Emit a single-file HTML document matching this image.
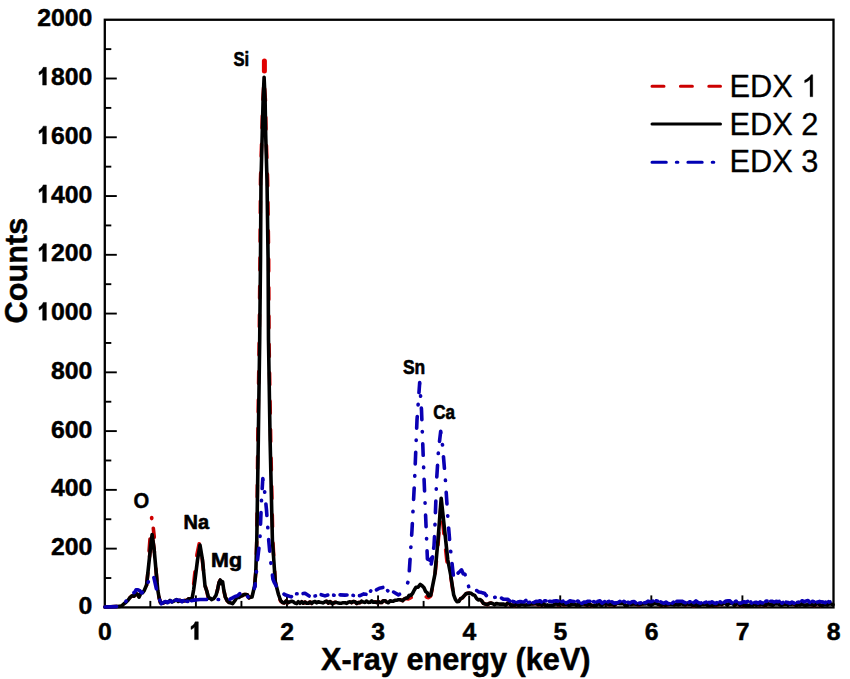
<!DOCTYPE html>
<html><head><meta charset="utf-8"><style>
html,body{margin:0;padding:0;background:#fff;}
body{width:850px;height:679px;overflow:hidden;}
svg{display:block;}
text{font-family:"Liberation Sans",sans-serif;}
</style></head><body>
<svg width="850" height="679" viewBox="0 0 850 679">
<rect x="0" y="0" width="850" height="679" fill="#fff"/>

<g stroke="#000" stroke-width="1.9" fill="none">
<line x1="104.8" y1="578.02" x2="111.3" y2="578.02"/><line x1="104.8" y1="548.63" x2="116.8" y2="548.63"/><line x1="104.8" y1="519.25" x2="111.3" y2="519.25"/><line x1="104.8" y1="489.87" x2="116.8" y2="489.87"/><line x1="104.8" y1="460.49" x2="111.3" y2="460.49"/><line x1="104.8" y1="431.10" x2="116.8" y2="431.10"/><line x1="104.8" y1="401.72" x2="111.3" y2="401.72"/><line x1="104.8" y1="372.34" x2="116.8" y2="372.34"/><line x1="104.8" y1="342.96" x2="111.3" y2="342.96"/><line x1="104.8" y1="313.57" x2="116.8" y2="313.57"/><line x1="104.8" y1="284.19" x2="111.3" y2="284.19"/><line x1="104.8" y1="254.81" x2="116.8" y2="254.81"/><line x1="104.8" y1="225.43" x2="111.3" y2="225.43"/><line x1="104.8" y1="196.04" x2="116.8" y2="196.04"/><line x1="104.8" y1="166.66" x2="111.3" y2="166.66"/><line x1="104.8" y1="137.28" x2="116.8" y2="137.28"/><line x1="104.8" y1="107.90" x2="111.3" y2="107.90"/><line x1="104.8" y1="78.51" x2="116.8" y2="78.51"/><line x1="104.8" y1="49.13" x2="111.3" y2="49.13"/><line x1="150.34" y1="607.4" x2="150.34" y2="600.9"/><line x1="195.89" y1="607.4" x2="195.89" y2="595.4"/><line x1="241.43" y1="607.4" x2="241.43" y2="600.9"/><line x1="286.98" y1="607.4" x2="286.98" y2="595.4"/><line x1="332.52" y1="607.4" x2="332.52" y2="600.9"/><line x1="378.06" y1="607.4" x2="378.06" y2="595.4"/><line x1="423.61" y1="607.4" x2="423.61" y2="600.9"/><line x1="469.15" y1="607.4" x2="469.15" y2="595.4"/><line x1="514.69" y1="607.4" x2="514.69" y2="600.9"/><line x1="560.24" y1="607.4" x2="560.24" y2="595.4"/><line x1="605.78" y1="607.4" x2="605.78" y2="600.9"/><line x1="651.33" y1="607.4" x2="651.33" y2="595.4"/><line x1="696.87" y1="607.4" x2="696.87" y2="600.9"/><line x1="742.41" y1="607.4" x2="742.41" y2="595.4"/><line x1="787.96" y1="607.4" x2="787.96" y2="600.9"/>
</g>
<rect x="104.80" y="19.75" width="728.70" height="587.65" fill="none" stroke="#000" stroke-width="2.3"/>
<g fill="none" stroke-linejoin="round" stroke-linecap="round" stroke-width="3.6">
<polyline points="105.0,607.0 120.0,606.4 122.0,605.6 124.0,603.7 126.0,602.2 128.0,600.3 130.0,597.5 132.0,595.8 134.0,596.3 136.0,593.4 137.5,594.4 139.0,597.2 141.0,592.9 142.5,592.8 144.0,590.9 146.6,585.0 148.7,565.0 150.7,546.0 152.1,534.5 154.0,548.0 155.8,568.0 157.8,590.3 159.2,598.2 160.5,602.8 162.8,603.1 165.0,602.1 166.7,602.4 168.3,602.1 170.0,600.5 171.7,602.0 173.3,601.4 175.0,600.5 176.7,599.7 178.3,601.5 180.0,600.4 181.7,600.9 183.3,601.1 185.0,600.5 186.8,600.5 188.6,598.7 190.4,599.2 192.2,598.1 194.5,576.0 197.0,554.0 199.3,543.0 202.0,557.0 205.0,585.4 206.8,591.3 208.7,600.1 210.1,598.1 211.5,599.6 214.0,598.3 216.0,595.3 217.6,589.5 219.0,582.5 220.3,580.0 221.5,583.6 222.6,581.7 223.8,590.2 225.3,597.0 227.0,600.4 229.0,602.5 230.8,602.9 232.6,603.7 234.8,600.7 237.0,597.2 239.0,597.4 241.0,596.1 242.5,595.6 244.1,594.5 245.6,594.5 247.3,594.8 249.0,597.8 250.5,597.2 252.0,597.0 254.6,586.0 255.8,572.0 256.8,540.0 257.8,440.0 259.2,340.0 260.0,260.0 260.5,180.0 261.8,135.0 262.8,100.0 264.1,80.0 265.4,100.0 266.1,135.0 267.6,180.0 268.7,260.0 269.0,340.0 270.7,440.0 272.8,540.0 275.3,582.0 278.5,595.7 280.6,601.2 282.5,602.4 284.4,602.9 286.2,600.8 288.1,602.6 290.0,601.8 291.7,601.3 293.3,601.8 295.0,603.1 296.7,603.6 298.3,601.7 300.0,603.3 301.7,601.7 303.3,603.2 305.0,602.1 306.7,603.2 308.3,603.3 310.0,602.0 311.7,603.4 313.3,601.9 315.0,601.5 316.7,602.9 318.3,601.7 320.0,602.3 321.7,602.6 323.3,602.9 325.0,601.7 326.7,601.2 328.3,603.0 330.0,601.6 331.7,603.3 333.3,603.3 335.0,602.2 336.7,602.6 338.3,602.9 340.0,603.3 341.7,603.1 343.3,602.8 345.0,602.8 346.7,603.4 348.3,602.2 350.0,601.8 351.7,602.6 353.3,601.5 355.0,601.8 356.7,603.5 358.3,602.5 360.0,602.6 361.7,601.2 363.3,602.1 365.0,602.4 366.7,601.0 368.3,602.4 370.0,602.3 371.7,600.9 373.3,602.3 375.0,601.9 376.7,602.4 378.3,601.6 380.0,602.5 381.7,602.5 383.3,600.7 385.0,600.7 386.7,602.1 388.3,602.7 390.0,600.9 391.7,601.1 393.3,601.2 395.0,600.3 396.7,600.2 398.3,599.8 400.0,599.7 402.5,600.7 404.2,599.0 405.0,598.7 406.7,598.4 408.3,599.0 410.0,598.1 411.9,597.1 413.7,596.6 415.6,596.0 417.4,595.2 419.3,595.4 421.1,596.4 423.0,596.4 424.9,595.7 426.7,597.2 428.6,597.7 430.7,596.0 434.9,576.0 438.0,545.0 441.0,505.0 444.0,535.0 447.0,562.0 450.6,576.0 453.7,595.8 455.4,598.9 457.0,601.7 458.8,601.5 460.6,598.6 462.4,597.8 464.1,595.9 465.9,593.8 467.7,593.2 469.4,593.1 471.2,593.3 473.0,594.8 474.7,595.4 476.5,598.4 478.2,599.9 480.0,599.5 481.8,600.9 483.5,603.4 485.3,604.1 487.1,604.6 489.0,603.6 490.8,603.1 492.6,603.6 494.5,604.8 496.3,603.6 498.2,603.9 500.0,604.1 501.8,604.1 503.6,604.1 505.5,605.3 507.3,603.4 509.1,603.1 510.9,605.3 512.7,605.1 514.5,605.4 516.4,604.1 518.2,605.3 520.0,605.2 521.8,603.6 523.6,604.8 525.5,605.1 527.3,604.7 529.1,604.4 530.9,603.9 532.7,604.0 534.5,603.8 536.4,603.4 538.2,604.7 540.0,604.0 541.8,605.2 543.6,603.4 545.5,605.4 547.3,604.9 549.1,605.4 550.9,605.3 552.7,605.3 554.5,604.5 556.4,603.2 558.2,604.9 560.0,603.5 561.8,603.8 563.6,604.7 565.5,604.4 567.3,604.2 569.1,605.5 570.9,604.7 572.7,604.1 574.5,603.9 576.4,605.4 578.2,604.5 580.0,605.3 581.8,604.2 583.6,603.8 585.5,604.6 587.3,605.3 589.1,603.7 590.9,605.2 592.7,605.5 594.5,605.2 596.4,605.2 598.2,603.2 600.0,604.7 601.8,605.3 603.6,603.4 605.5,603.9 607.3,603.9 609.1,604.6 610.9,604.3 612.7,604.5 614.5,605.2 616.4,603.4 618.2,603.5 620.0,603.7 621.8,603.7 623.6,603.5 625.5,605.7 627.3,605.4 629.1,603.5 630.9,604.5 632.7,604.0 634.5,604.0 636.4,604.1 638.2,604.8 640.0,604.6 641.8,604.1 643.6,603.7 645.5,604.0 647.3,603.6 649.1,604.6 650.9,605.0 652.7,604.2 654.5,603.5 656.4,603.8 658.2,604.3 660.0,604.9 661.8,605.3 663.6,604.3 665.5,605.3 667.3,604.8 669.1,604.3 670.9,604.2 672.7,604.5 674.5,604.9 676.4,604.2 678.2,604.9 680.0,604.3 681.8,603.8 683.6,604.5 685.5,604.9 687.3,603.4 689.1,604.3 690.9,604.3 692.7,605.4 694.5,605.6 696.4,604.3 698.2,605.5 700.0,605.3 701.8,604.0 703.6,604.5 705.5,603.6 707.3,605.3 709.1,604.9 710.9,605.4 712.7,605.2 714.5,604.9 716.4,605.0 718.2,604.6 720.0,603.4 721.8,604.6 723.6,603.2 725.5,603.6 727.3,605.1 729.1,603.4 730.9,603.5 732.7,603.6 734.5,605.5 736.4,603.8 738.2,603.4 740.0,605.4 741.8,603.7 743.6,605.4 745.5,605.0 747.3,605.3 749.1,605.6 750.9,604.7 752.7,605.2 754.5,603.3 756.4,605.1 758.2,604.4 760.0,604.9 761.8,603.5 763.6,605.0 765.5,605.5 767.3,603.4 769.1,604.1 770.9,604.7 772.7,605.3 774.5,603.9 776.4,603.8 778.2,604.0 780.0,604.9 781.8,605.2 783.6,604.3 785.5,604.2 787.3,604.3 789.1,604.1 790.9,604.3 792.7,603.5 794.5,604.5 796.4,605.6 798.2,604.2 800.0,605.0 801.8,603.6 803.6,604.9 805.5,605.1 807.3,604.9 809.1,604.5 810.9,604.5 812.7,604.9 814.5,605.5 816.4,603.7 818.2,603.6 820.0,605.2 821.9,605.6 823.7,604.6 825.6,604.5 827.4,605.1 829.3,603.8 831.1,604.0 833.0,604.6" stroke="#dd0a0a" stroke-dasharray="12 16.4"/>
<polyline points="264.4,61 264.4,71" stroke="#e00000" stroke-width="5"/>
<polyline points="151.7,517.6 151.7,518.6" stroke="#d00000"/>
<polyline points="153.3,528.3 154.3,537.3" stroke="#c00000"/>
<polyline points="150.0,539 149.1,551" stroke="#b00000"/>
<polyline points="105.0,607.0 120.0,606.4 122.0,605.6 124.0,603.7 126.0,602.2 128.0,600.3 130.0,597.5 132.0,595.8 134.0,596.3 136.0,593.4 137.5,594.4 139.0,597.2 141.0,592.9 142.5,592.8 144.0,590.9 146.6,585.0 148.7,565.0 150.7,546.0 152.1,534.5 154.0,548.0 155.8,568.0 157.8,590.3 159.2,598.2 160.5,602.8 162.8,603.1 165.0,602.1 166.7,602.4 168.3,602.1 170.0,600.5 171.7,602.0 173.3,601.4 175.0,600.5 176.7,599.7 178.3,601.5 180.0,600.4 181.7,600.9 183.3,601.1 185.0,600.5 186.8,600.5 188.6,598.7 190.4,599.2 192.2,597.9 193.6,590.0 195.0,580.0 197.5,560.0 200.0,545.0 202.5,560.0 205.0,585.9 206.8,591.0 208.7,598.1 210.1,598.1 211.5,599.6 214.0,598.3 216.0,595.3 217.6,589.5 219.0,582.5 220.3,580.0 221.5,583.6 222.6,581.7 223.8,590.2 225.3,597.0 227.0,600.4 229.0,602.5 230.8,602.9 232.6,603.7 234.8,600.7 237.0,597.2 239.0,597.4 241.0,596.1 242.5,595.6 244.1,594.5 245.6,594.5 247.3,594.8 249.0,597.8 250.5,597.2 252.0,597.0 254.6,586.0 255.8,572.0 256.8,540.0 258.3,440.0 259.7,340.0 260.5,260.0 261.0,180.0 262.2,135.0 263.1,100.0 264.1,77.3 265.1,100.0 265.7,135.0 267.0,180.0 268.1,260.0 268.5,340.0 270.1,440.0 272.4,540.0 275.3,582.0 278.5,594.5 280.6,600.5 282.5,602.4 284.4,602.9 286.2,600.8 288.1,602.6 290.0,601.8 291.7,601.3 293.3,601.8 295.0,603.1 296.7,603.6 298.3,601.7 300.0,603.3 301.7,601.7 303.3,603.2 305.0,602.1 306.7,603.2 308.3,603.3 310.0,602.0 311.7,603.4 313.3,601.9 315.0,601.5 316.7,602.9 318.3,601.7 320.0,602.3 321.7,602.6 323.3,602.9 325.0,601.7 326.7,601.2 328.3,603.0 330.0,601.6 331.7,603.3 333.3,603.3 335.0,602.2 336.7,602.6 338.3,602.9 340.0,603.3 341.7,603.1 343.3,602.8 345.0,602.8 346.7,603.4 348.3,602.2 350.0,601.8 351.7,602.6 353.3,601.5 355.0,601.8 356.7,603.5 358.3,602.5 360.0,602.6 361.7,601.2 363.3,602.1 365.0,602.4 366.7,601.0 368.3,602.4 370.0,602.3 371.7,600.9 373.3,602.3 375.0,601.9 376.7,602.4 378.3,601.6 380.0,602.5 381.7,602.5 383.3,600.7 385.0,600.7 386.7,602.1 388.3,602.7 390.0,600.9 391.7,601.1 393.3,601.2 395.0,600.3 396.7,600.2 398.3,599.8 400.0,599.7 402.5,600.7 404.2,599.0 405.9,598.1 407.5,598.0 409.2,595.2 410.9,595.5 412.6,593.4 414.3,590.0 416.0,587.3 418.1,587.2 420.3,584.4 422.1,585.7 424.0,587.8 425.5,591.3 427.1,592.6 428.6,596.0 430.7,595.3 434.9,574.4 438.0,540.0 441.2,498.2 444.6,530.0 447.8,560.0 450.6,574.4 453.7,594.9 455.4,599.4 457.0,601.7 458.8,601.5 460.6,598.6 462.4,597.8 464.1,595.9 465.9,593.8 467.7,593.2 469.4,593.1 471.2,593.3 473.0,594.8 474.7,595.4 476.5,598.4 478.2,599.9 480.0,599.5 481.8,600.9 483.5,603.4 485.3,604.1 487.1,604.6 489.0,603.6 490.8,603.1 492.6,603.6 494.5,604.8 496.3,603.6 498.2,603.9 500.0,604.1 501.8,604.1 503.6,604.1 505.5,605.3 507.3,603.4 509.1,603.1 510.9,605.3 512.7,605.1 514.5,605.4 516.4,604.1 518.2,605.3 520.0,605.2 521.8,603.6 523.6,604.8 525.5,605.1 527.3,604.7 529.1,604.4 530.9,603.9 532.7,604.0 534.5,603.8 536.4,603.4 538.2,604.7 540.0,604.0 541.8,605.2 543.6,603.4 545.5,605.4 547.3,604.9 549.1,605.4 550.9,605.3 552.7,605.3 554.5,604.5 556.4,603.2 558.2,604.9 560.0,603.5 561.8,603.8 563.6,604.7 565.5,604.4 567.3,604.2 569.1,605.5 570.9,604.7 572.7,604.1 574.5,603.9 576.4,605.4 578.2,604.5 580.0,605.3 581.8,604.2 583.6,603.8 585.5,604.6 587.3,605.3 589.1,603.7 590.9,605.2 592.7,605.5 594.5,605.2 596.4,605.2 598.2,603.2 600.0,604.7 601.8,605.3 603.6,603.4 605.5,603.9 607.3,603.9 609.1,604.6 610.9,604.3 612.7,604.5 614.5,605.2 616.4,603.4 618.2,603.5 620.0,603.7 621.8,603.7 623.6,603.5 625.5,605.7 627.3,605.4 629.1,603.5 630.9,604.5 632.7,604.0 634.5,604.0 636.4,604.1 638.2,604.8 640.0,604.6 641.8,604.1 643.6,603.7 645.5,604.0 647.3,603.6 649.1,604.6 650.9,605.0 652.7,604.2 654.5,603.5 656.4,603.8 658.2,604.3 660.0,604.9 661.8,605.3 663.6,604.3 665.5,605.3 667.3,604.8 669.1,604.3 670.9,604.2 672.7,604.5 674.5,604.9 676.4,604.2 678.2,604.9 680.0,604.3 681.8,603.8 683.6,604.5 685.5,604.9 687.3,603.4 689.1,604.3 690.9,604.3 692.7,605.4 694.5,605.6 696.4,604.3 698.2,605.5 700.0,605.3 701.8,604.0 703.6,604.5 705.5,603.6 707.3,605.3 709.1,604.9 710.9,605.4 712.7,605.2 714.5,604.9 716.4,605.0 718.2,604.6 720.0,603.4 721.8,604.6 723.6,603.2 725.5,603.6 727.3,605.1 729.1,603.4 730.9,603.5 732.7,603.6 734.5,605.5 736.4,603.8 738.2,603.4 740.0,605.4 741.8,603.7 743.6,605.4 745.5,605.0 747.3,605.3 749.1,605.6 750.9,604.7 752.7,605.2 754.5,603.3 756.4,605.1 758.2,604.4 760.0,604.9 761.8,603.5 763.6,605.0 765.5,605.5 767.3,603.4 769.1,604.1 770.9,604.7 772.7,605.3 774.5,603.9 776.4,603.8 778.2,604.0 780.0,604.9 781.8,605.2 783.6,604.3 785.5,604.2 787.3,604.3 789.1,604.1 790.9,604.3 792.7,603.5 794.5,604.5 796.4,605.6 798.2,604.2 800.0,605.0 801.8,603.6 803.6,604.9 805.5,605.1 807.3,604.9 809.1,604.5 810.9,604.5 812.7,604.9 814.5,605.5 816.4,603.7 818.2,603.6 820.0,605.2 821.9,605.6 823.7,604.6 825.6,604.5 827.4,605.1 829.3,603.8 831.1,604.0 833.0,604.6" stroke="#000"/>
<polyline points="105.0,607.0 121.5,606.5 123.2,604.1 125.0,603.4 126.7,599.9 128.4,599.1 130.7,596.2 133.0,592.9 134.5,592.5 136.0,589.8 138.0,589.8 140.0,590.9 141.7,592.9 144.0,590.8 146.5,586.8 149.0,580.0 152.3,574.5 154.0,578.0 156.0,587.0 158.0,596.3 159.7,600.1 161.3,603.8" stroke="#0a00b4" stroke-dasharray="11.6 11.8 0.5 11.8" stroke-dashoffset="0.00"/>
<polyline points="161.3,603.8 163.5,602.4 165.7,601.5 167.8,602.6 170.0,599.8 172.0,601.9 174.0,600.5 176.0,600.1 178.0,600.0 180.0,600.5 182.0,601.8 184.0,600.2 186.0,601.2 188.0,601.4 190.0,601.0 195.0,600.0" stroke="#0a00b4" stroke-dasharray="9 3.5 1.5 3.5" stroke-dashoffset="0.00"/>
<polyline points="195.0,600.0 200.0,599.5 205.0,599.5 210.0,599.7 212.5,600.4 215.0,599.4 217.5,599.4 220.0,599.7 222.5,600.7 225.0,599.8 227.5,599.0 230.0,599.2 232.5,597.9 235.0,596.5 237.5,595.8 240.0,593.5 242.5,590.8 245.0,593.2 246.5,594.6 248.0,597.0 250.9,596.6 253.0,592.4 255.0,586.2" stroke="#0a00b4" stroke-dasharray="11.6 11.8 0.5 11.8" stroke-dashoffset="0.00"/>
<polyline points="255.0,586.2 256.0,576.0 257.5,560.0 259.9,540.0 261.5,500.0 262.8,478.5 264.5,490.0 266.5,510.0 268.7,540.0 270.5,560.0 272.9,579.0 274.2,582.4 279.5,591.6 285.0,594.7" stroke="#0a00b4" stroke-dasharray="11.6 11.8 0.5 11.8" stroke-dashoffset="9.12"/>
<polyline points="285.0,594.7 291.2,596.9 295.6,593.7 300.0,594.0 305.0,593.3 310.0,596.6 315.0,596.0 320.0,594.3 325.0,595.9 330.0,594.3 335.0,595.5 340.0,594.9 345.0,595.1 350.0,594.8 355.0,595.7 360.0,595.6 363.8,593.9 367.5,594.6 371.2,590.4 375.0,590.7 379.4,588.2 383.8,587.2 388.7,591.6 393.0,591.7 398.4,594.9 404.6,591.6" stroke="#0a00b4" stroke-dasharray="7 6 0.5 6" stroke-dashoffset="0.00"/>
<polyline points="404.6,591.6 408.7,580.0 412.0,530.0 414.6,480.0 417.0,420.0 419.7,382.5 421.5,410.0 424.1,480.0 426.3,532.0 427.4,559.0 430.0,560.0" stroke="#0a00b4" stroke-dasharray="11.6 11.8 0.5 11.8" stroke-dashoffset="14.17"/>
<polyline points="430.0,560.0 432.5,557.0 430.5,568.0 434.0,546.0 434.6,535.0 436.6,480.0 438.5,450.0 440.7,431.3 442.5,445.0 445.4,480.0 448.0,520.0 450.0,545.0 453.5,576.8 455.3,578.7 458.0,573.1" stroke="#0a00b4" stroke-dasharray="11.6 11.8 0.5 11.8" stroke-dashoffset="0.60"/>
<polyline points="458.0,573.1 459.8,571.5 461.5,569.8 463.2,573.8 465.0,574.3 467.2,581.7 469.4,589.1 471.2,590.4 473.0,588.3 474.9,589.8 476.8,590.6 478.8,592.0 480.7,592.3 482.6,592.9 484.4,593.2 486.1,595.3 487.9,597.0 489.7,600.1 491.6,600.0 493.6,597.5 495.5,597.2 497.5,597.0 499.4,596.7 501.5,598.2" stroke="#0a00b4" stroke-dasharray="11.6 11.8 0.5 11.8" stroke-dashoffset="0.00"/>
<polyline points="501.5,598.2 503.6,599.3 505.8,599.2 507.9,599.4 510.0,601.3 512.0,601.2 514.0,601.7 516.0,602.7 518.0,602.0 520.0,601.5 522.0,601.8 524.0,602.0 526.0,600.3 528.0,602.5 530.0,602.2 532.0,602.5 534.0,602.4 536.0,601.4 538.0,601.5 540.0,600.8 542.0,602.3 544.0,600.9 546.0,600.9 548.0,601.4 550.0,601.3 552.0,601.7 554.0,601.0 556.0,600.8 558.0,601.1 560.0,601.0 562.0,601.6 564.0,600.7 566.0,602.9 568.0,602.1 570.0,600.9 572.0,601.2 574.0,601.5 576.0,601.6 578.0,601.0 580.0,603.0 582.0,603.4 584.0,602.1 586.0,602.2 588.0,601.2 590.0,601.3 592.0,601.8 594.0,601.6 596.0,603.0 598.0,601.2 600.0,600.8 602.0,603.2 604.0,602.0 606.0,601.0 608.0,602.0 610.0,600.6 612.0,601.9 614.0,603.1 616.0,602.9 618.0,602.5 620.0,601.4 622.0,601.8 624.0,601.3 626.0,602.9 628.0,602.3 630.0,603.0 632.0,601.8 634.0,601.5 636.0,603.0 638.0,603.4 640.0,603.0 642.0,602.8 644.0,602.8 646.0,602.5 648.0,601.1 650.0,601.8 652.0,601.5 654.0,600.7 656.0,600.7 658.0,601.4 660.0,601.4 662.0,602.6 664.0,603.3 666.0,602.1 668.0,603.4 670.0,603.6 672.0,603.4 674.0,601.8 676.0,601.4 678.0,601.4 680.0,601.3 682.0,601.2 684.0,602.3 686.0,602.9 688.0,602.7 690.0,601.7 692.0,602.2 694.0,602.7 696.0,600.9 698.0,602.4 700.0,603.1 702.0,602.8 704.0,602.8 706.0,602.1 708.0,601.4 710.0,603.1 712.0,601.8 714.0,603.0 716.0,603.4 718.0,601.8 720.0,601.8 722.0,603.2 724.0,602.5 726.0,601.0 728.0,600.9 730.0,600.9 732.0,602.9 734.0,602.7 736.0,601.0 738.0,602.8 740.0,603.3 742.0,602.5 744.0,601.8 746.0,602.3 748.0,601.3 750.0,601.0 752.0,603.5 754.0,602.6 756.0,602.2 758.0,603.2 760.0,601.9 762.0,603.0 764.0,602.8 766.0,601.1 768.0,601.2 770.0,601.3 772.0,601.2 774.0,602.1 776.0,601.3 778.0,601.8 780.0,601.1 782.0,603.2 784.0,601.8 786.0,602.1 788.0,602.5 790.0,603.4 792.0,602.0 794.0,603.3 796.0,602.2 798.0,602.2 800.0,602.1 802.0,600.7 804.0,601.8 806.0,601.1 808.0,600.6 810.0,602.6 811.9,601.0 813.8,601.8 815.8,602.4 817.7,602.0 819.6,601.4 821.5,601.9 823.4,602.1 825.3,602.7 827.2,600.9 829.2,602.1 831.1,601.3 833.0,602.0" stroke="#0a00b4" stroke-dasharray="9 3.5 1.5 3.5" stroke-dashoffset="0.00"/>
</g>
<g font-weight="bold" font-size="24.8" fill="#000" stroke="#000" stroke-width="0.45" stroke-linejoin="round">
<text x="92.40" y="614.00" text-anchor="end">0</text><text x="92.40" y="555.24" text-anchor="end">200</text><text x="92.40" y="496.47" text-anchor="end">400</text><text x="92.40" y="437.70" text-anchor="end">600</text><text x="92.40" y="378.94" text-anchor="end">800</text><path transform="translate(37.24 320.18) scale(0.012109 -0.012109)" d="M753 0L446 0L446 1040Q320 900 150 835L150 1090Q250 1130 350 1225Q450 1320 495 1466L753 1466Z" vector-effect="non-scaling-stroke"/><text x="92.40" y="320.18" text-anchor="end">000</text><path transform="translate(37.24 261.41) scale(0.012109 -0.012109)" d="M753 0L446 0L446 1040Q320 900 150 835L150 1090Q250 1130 350 1225Q450 1320 495 1466L753 1466Z" vector-effect="non-scaling-stroke"/><text x="92.40" y="261.41" text-anchor="end">200</text><path transform="translate(37.24 202.64) scale(0.012109 -0.012109)" d="M753 0L446 0L446 1040Q320 900 150 835L150 1090Q250 1130 350 1225Q450 1320 495 1466L753 1466Z" vector-effect="non-scaling-stroke"/><text x="92.40" y="202.64" text-anchor="end">400</text><path transform="translate(37.24 143.88) scale(0.012109 -0.012109)" d="M753 0L446 0L446 1040Q320 900 150 835L150 1090Q250 1130 350 1225Q450 1320 495 1466L753 1466Z" vector-effect="non-scaling-stroke"/><text x="92.40" y="143.88" text-anchor="end">600</text><path transform="translate(37.24 85.11) scale(0.012109 -0.012109)" d="M753 0L446 0L446 1040Q320 900 150 835L150 1090Q250 1130 350 1225Q450 1320 495 1466L753 1466Z" vector-effect="non-scaling-stroke"/><text x="92.40" y="85.11" text-anchor="end">800</text><text x="92.40" y="26.35" text-anchor="end">2000</text>
<text x="105.00" y="639.6" text-anchor="middle">0</text><path transform="translate(189.19 639.60) scale(0.012109 -0.012109)" d="M753 0L446 0L446 1040Q320 900 150 835L150 1090Q250 1130 350 1225Q450 1320 495 1466L753 1466Z" vector-effect="non-scaling-stroke"/><text x="287.18" y="639.6" text-anchor="middle">2</text><text x="378.26" y="639.6" text-anchor="middle">3</text><text x="469.35" y="639.6" text-anchor="middle">4</text><text x="560.44" y="639.6" text-anchor="middle">5</text><text x="651.53" y="639.6" text-anchor="middle">6</text><text x="742.61" y="639.6" text-anchor="middle">7</text><text x="833.70" y="639.6" text-anchor="middle">8</text>
</g>
<g font-weight="bold" font-size="31" fill="#000" stroke="#000" stroke-width="0.45" stroke-linejoin="round">
<text x="321.1" y="670.1" font-size="30.7">X-ray energy (keV)</text>
<text transform="translate(27.4 270.6) rotate(-90)" text-anchor="middle" font-size="30.7">Counts</text>
</g>
<g font-weight="bold" font-size="21" fill="#000" stroke="#000" stroke-width="0.65" stroke-linejoin="round">
<text transform="translate(233.4 65.5) scale(0.79 1)">Si</text>
<text transform="translate(133.6 507.7) scale(0.92 1)" font-size="22" stroke-width="0.45">O</text>
<text transform="translate(183.6 528.7) scale(0.95 1)">Na</text>
<text transform="translate(211.1 566.7) scale(1.02 1)">Mg</text>
<text transform="translate(403.0 374.4) scale(0.83 1)">Sn</text>
<text transform="translate(433.3 419.1) scale(0.81 1)">Ca</text>
</g>
<g fill="none" stroke-width="3" stroke-linecap="round">
<line x1="652" y1="86.2" x2="720.5" y2="86.2" stroke="#cc0000" stroke-dasharray="12 16.4"/>
<line x1="652" y1="124.1" x2="720.5" y2="124.1" stroke="#000"/>
<line x1="652" y1="162.3" x2="714" y2="162.3" stroke="#0000b4" stroke-dasharray="14.3 10 1.6 10"/>
</g>
<g font-size="30.8" fill="#000" stroke="#000" stroke-width="0.3" stroke-linejoin="round">
<text x="729.4" y="96.8">EDX </text><path transform="translate(801.29 96.80) scale(0.015039 -0.015039)" d="M763 0L583 0L583 1147Q518 1085 412 1023Q306 961 222 930L222 1104Q373 1175 486 1276Q599 1377 646 1472L763 1472Z" vector-effect="non-scaling-stroke"/>
<text x="729.4" y="134.5">EDX 2</text>
<text x="729.4" y="172.2">EDX 3</text>
</g>
</svg>
</body></html>
